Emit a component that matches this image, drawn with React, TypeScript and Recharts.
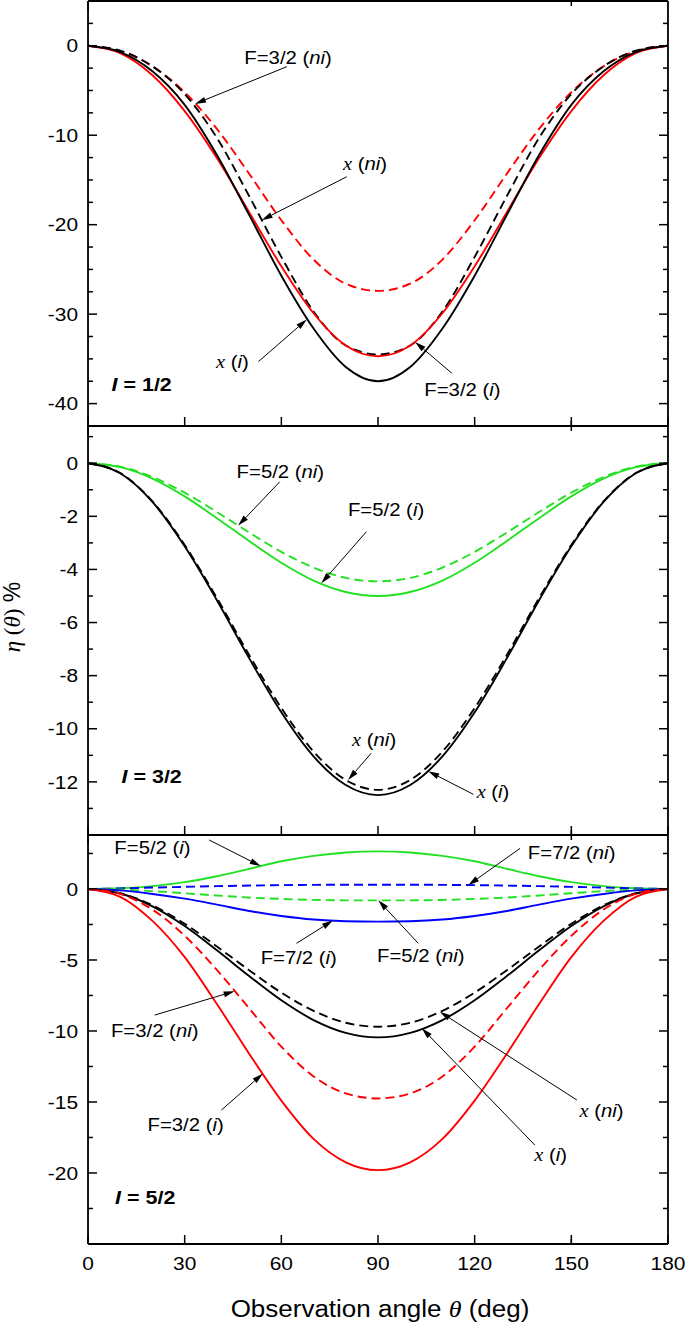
import React from 'react';
import { LineChart, Line, XAxis, YAxis, ReferenceLine, ReferenceDot } from 'recharts';

const SANS = '"Liberation Sans", Arial, sans-serif';
const SERIF = '"Liberation Serif", "Times New Roman", serif';
const W = 685;
const THIN = 0.01; // axes take no room, the margins place the plot

// observation angle (deg)
const angles = [0, 10, 20, 30, 40, 50, 60, 70, 80, 90, 100, 110, 120, 130, 140, 150, 160, 170, 180];
const majorX = [0, 30, 60, 90, 120, 150, 180];
const minorX = [15, 45, 75, 105, 135, 165];

// I = 1/2
const halfXI = [0, -0.7, -2.85, -6.6, -12.2, -18.9, -25.7, -31.6, -35.9, -37.5, -35.9, -31.6, -25.7, -18.9, -12.2, -6.6, -2.85, -0.7, 0];
const halfF32I = [0, -0.83, -3.3, -7.3, -12.55, -18.6, -24.65, -29.9, -33.5, -34.7, -33.5, -29.9, -24.65, -18.6, -12.55, -7.3, -3.3, -0.83, 0];
const halfXNI = [0, -0.55, -2.3, -5.4, -10.3, -16.8, -23.6, -29.7, -33.5, -34.5, -33.5, -29.7, -23.6, -16.8, -10.3, -5.4, -2.3, -0.55, 0];
const halfF32NI = [0, -0.6, -2.3, -5.2, -9.3, -14.3, -19.5, -23.9, -26.6, -27.4, -26.6, -23.9, -19.5, -14.3, -9.3, -5.2, -2.3, -0.6, 0];

// I = 3/2
const threeXI = [0, -0.38, -1.46, -3.13, -5.16, -7.34, -9.38, -11.04, -12.12, -12.5, -12.12, -11.04, -9.38, -7.34, -5.16, -3.13, -1.46, -0.38, 0];
const threeXNI = [0, -0.37, -1.44, -3.08, -5.08, -7.22, -9.22, -10.86, -11.93, -12.3, -11.93, -10.86, -9.22, -7.22, -5.08, -3.08, -1.44, -0.37, 0];
const threeF52I = [0, -0.15, -0.58, -1.25, -2.07, -2.93, -3.75, -4.42, -4.85, -5.0, -4.85, -4.42, -3.75, -2.93, -2.07, -1.25, -0.58, -0.15, 0];
const threeF52NI = [0, -0.13, -0.52, -1.11, -1.84, -2.61, -3.34, -3.93, -4.32, -4.45, -4.32, -3.93, -3.34, -2.61, -1.84, -1.11, -0.52, -0.13, 0];

// I = 5/2
const fiveF32I = [0, -0.55, -2.25, -4.8, -8.1, -11.6, -14.9, -17.6, -19.25, -19.8, -19.25, -17.6, -14.9, -11.6, -8.1, -4.8, -2.25, -0.55, 0];
const fiveF32NI = [0, -0.35, -1.45, -3.3, -5.7, -8.4, -11.1, -13.2, -14.4, -14.75, -14.4, -13.2, -11.1, -8.4, -5.7, -3.3, -1.45, -0.35, 0];
const fiveXI = [0, -0.32, -1.22, -2.61, -4.32, -6.13, -7.84, -9.23, -10.13, -10.45, -10.13, -9.23, -7.84, -6.13, -4.32, -2.61, -1.22, -0.32, 0];
const fiveXNI = [0, -0.3, -1.15, -2.45, -4.05, -5.72, -7.3, -8.58, -9.42, -9.7, -9.42, -8.58, -7.3, -5.72, -4.05, -2.45, -1.15, -0.3, 0];
const fiveF52I = [0, 0.05, 0.2, 0.48, 0.9, 1.42, 1.95, 2.33, 2.57, 2.65, 2.57, 2.33, 1.95, 1.42, 0.9, 0.48, 0.2, 0.05, 0];
const fiveF52NI = [0, -0.04, -0.15, -0.3, -0.46, -0.6, -0.7, -0.77, -0.8, -0.8, -0.8, -0.77, -0.7, -0.6, -0.46, -0.3, -0.15, -0.04, 0];
const fiveF72I = [0, -0.1, -0.35, -0.68, -1.1, -1.55, -1.9, -2.15, -2.27, -2.3, -2.27, -2.15, -1.9, -1.55, -1.1, -0.68, -0.35, -0.1, 0];
const fiveF72NI = [0, 0.04, 0.1, 0.15, 0.2, 0.24, 0.27, 0.29, 0.3, 0.3, 0.3, 0.29, 0.27, 0.24, 0.2, 0.15, 0.1, 0.04, 0];

const RED = '#ff0000';
const GREEN = '#22e022';
const BLUE = '#0000ff';
const BLACK = '#000000';

type Part = { t: string; it?: boolean; serif?: boolean; bold?: boolean };
type Pt = [number, number];
type Note = { text: Part[]; at: Pt; from: Pt; to: Pt };

const fLab = (f: string, kind: string): Part[] => [{ t: `F=${f} (` }, { t: kind, it: true }, { t: ')' }];
const xLab = (kind: string): Part[] => [{ t: 'x', serif: true, it: true }, { t: ' (' }, { t: kind, it: true }, { t: ')' }];
const iLab = (v: string): Part[] => [{ t: 'I', it: true, bold: true }, { t: ` = ${v}`, bold: true }];

const notesHalf: Note[] = [
  { text: fLab('3/2', 'ni'), at: [62.1, -1.3], from: [61.7, -2.34], to: [33.2, -6.5] },
  { text: xLab('ni'), at: [86.0, -13.2], from: [80.3, -14.64], to: [53.9, -19.5] },
  { text: xLab('i'), at: [44.8, -35.3], from: [52.9, -35.3], to: [67.9, -30.6] },
  { text: fLab('3/2', 'i'), at: [116.2, -38.4], from: [112.9, -36.6], to: [101.5, -33.1] },
];

const notesThree: Note[] = [
  { text: fLab('5/2', 'ni'), at: [59.7, -0.32], from: [59.5, -0.7], to: [46.6, -2.35] },
  { text: fLab('5/2', 'i'), at: [92.5, -1.76], from: [86.4, -2.58], to: [72.4, -4.52] },
  { text: xLab('ni'), at: [88.8, -10.42], from: [87.9, -10.92], to: [80.7, -11.93] },
  { text: xLab('i'), at: [125.7, -12.38], from: [119.6, -12.47], to: [105.6, -11.6] },
];

const notesFive: Note[] = [
  { text: fLab('5/2', 'i'), at: [20.0, 2.88], from: [37.6, 3.45], to: [53.6, 1.61] },
  { text: fLab('7/2', 'ni'), at: [150.1, 2.57], from: [134.1, 2.86], to: [118.0, 0.27] },
  { text: fLab('5/2', 'ni'), at: [103.3, -4.72], from: [102.5, -3.83], to: [90.1, -0.8] },
  { text: fLab('7/2', 'i'), at: [65.4, -4.86], from: [64.7, -3.83], to: [76.0, -2.22] },
  { text: fLab('3/2', 'ni'), at: [20.7, -10.0], from: [20.7, -8.88], to: [45.5, -7.2] },
  { text: fLab('3/2', 'i'), at: [30.3, -16.62], from: [41.4, -15.57], to: [54.3, -13.0] },
  { text: xLab('ni'), at: [159.4, -15.64], from: [151.7, -14.86], to: [109.2, -8.65] },
  { text: xLab('i'), at: [143.6, -18.74], from: [138.7, -18.04], to: [103.6, -9.8] },
];

const Parts = ({ parts }: { parts: Part[] }) => (
  <>
    {parts.map((p, i) => (
      <tspan
        key={i}
        fontStyle={p.it ? 'italic' : 'normal'}
        fontWeight={p.bold ? 'bold' : 'normal'}
        fontFamily={p.serif ? SERIF : SANS}
      >
        {p.t}
      </tspan>
    ))}
  </>
);

const Label = ({ cx, cy, parts, anchor = 'middle', size = 18 }: any) => (
  <g transform={`translate(${cx},${cy}) scale(1.13,1)`}>
    <text textAnchor={anchor} dy="0.35em" fontSize={size} fill="#000" style={{ whiteSpace: 'pre' }}>
      <Parts parts={parts} />
    </text>
  </g>
);

const Arrow = ({ x1, y1, x2, y2 }: any) => {
  const dx = x2 - x1;
  const dy = y2 - y1;
  const len = Math.hypot(dx, dy) || 1;
  const ux = dx / len;
  const uy = dy / len;
  const hl = 11;
  const hw = 3;
  const bx = x2 - ux * hl;
  const by = y2 - uy * hl;
  return (
    <g>
      <line x1={x1} y1={y1} x2={bx} y2={by} stroke="#000" strokeWidth={1} />
      <polygon points={`${x2},${y2} ${bx - uy * hw},${by + ux * hw} ${bx + uy * hw},${by - ux * hw}`} fill="#000" />
    </g>
  );
};

// inward tick marks (and labels) drawn from the axis position that recharts hands over
type Side = 'left' | 'right' | 'top' | 'bottom';
const makeTick = (side: Side, len: number, label = false) => (p: any) => {
  const { x, y } = p;
  const dir = { left: [1, 0], right: [-1, 0], top: [0, 1], bottom: [0, -1] }[side];
  return (
    <g>
      <line x1={x} y1={y} x2={x + dir[0] * len} y2={y + dir[1] * len} stroke="#000" strokeWidth={1.5} />
      {label && side === 'left' && (
        <g transform={`translate(${x - 10},${y}) scale(1.1,1)`}>
          <text textAnchor="end" dy="0.35em" fontSize={19} fontFamily={SANS} fill="#000">{p.payload.value}</text>
        </g>
      )}
      {label && side === 'bottom' && (
        <g transform={`translate(${x},${y + 13}) scale(1.1,1)`}>
          <text textAnchor="middle" dy="0.71em" fontSize={19} fontFamily={SANS} fill="#000">{p.payload.value}</text>
        </g>
      )}
    </g>
  );
};

type Series = { key: string; values: number[]; color: string; dashed?: boolean };

const frame = { stroke: '#000', strokeWidth: 1.8 };

function Panel({ top, height, margin, domain, majorY, minorY, series, notes, tag, showX }: {
  top: number; height: number; margin: any; domain: [number, number]; majorY: number[]; minorY: number[];
  series: Series[]; notes: Note[]; tag: { at: Pt; text: Part[] }; showX?: boolean;
}) {
  const rows = angles.map((a, i) => {
    const r: any = { angle: a };
    series.forEach((s) => { r[s.key] = s.values[i]; });
    return r;
  });
  const common = { type: 'number' as const, allowDataOverflow: true, interval: 0 as const, tickSize: 0, tickMargin: 0, tickLine: false };
  return (
    <div style={{ position: 'absolute', left: 0, top, width: W, height }}>
      <LineChart width={W} height={height} data={rows} margin={margin}>
        <XAxis xAxisId={0} dataKey="angle" domain={[0, 180]} ticks={majorX} {...common}
          tick={makeTick('bottom', 9, !!showX)} axisLine={frame} height={THIN} />
        <XAxis xAxisId="xm" domain={[0, 180]} ticks={minorX} {...common}
          tick={makeTick('bottom', 5)} axisLine={false} height={THIN} />
        <XAxis xAxisId="xt" orientation="top" domain={[0, 180]} ticks={majorX} {...common}
          tick={makeTick('top', 9)} axisLine={frame} height={THIN} />
        <XAxis xAxisId="xtm" orientation="top" domain={[0, 180]} ticks={minorX} {...common}
          tick={makeTick('top', 5)} axisLine={false} height={THIN} />
        <YAxis yAxisId={0} domain={domain} ticks={majorY} {...common}
          tick={makeTick('left', 9, true)} axisLine={frame} width={THIN} />
        <YAxis yAxisId="ym" domain={domain} ticks={minorY} {...common}
          tick={makeTick('left', 5)} axisLine={false} width={THIN} />
        <YAxis yAxisId="yr" orientation="right" domain={domain} ticks={majorY} {...common}
          tick={makeTick('right', 9)} axisLine={frame} width={THIN} />
        <YAxis yAxisId="yrm" orientation="right" domain={domain} ticks={minorY} {...common}
          tick={makeTick('right', 5)} axisLine={false} width={THIN} />
        {series.map((s) => (
          <Line
            key={s.key}
            dataKey={s.key}
            type="monotone"
            stroke={s.color}
            strokeWidth={1.9}
            strokeDasharray={s.dashed ? '9 5' : undefined}
            dot={false}
            activeDot={false}
            isAnimationActive={false}
          />
        ))}
        {notes.map((n, i) => (
          <ReferenceLine
            key={`a${i}`}
            segment={[{ x: n.from[0], y: n.from[1] }, { x: n.to[0], y: n.to[1] }]}
            shape={(p: any) => <Arrow {...p} />}
          />
        ))}
        {notes.map((n, i) => (
          <ReferenceDot
            key={`t${i}`}
            x={n.at[0]}
            y={n.at[1]}
            shape={(p: any) => <Label cx={p.cx} cy={p.cy} parts={n.text} />}
          />
        ))}
        <ReferenceDot
          x={tag.at[0]}
          y={tag.at[1]}
          shape={(p: any) => <Label cx={p.cx} cy={p.cy} parts={tag.text} anchor="start" size={19} />}
        />
      </LineChart>
    </div>
  );
}

export default function App() {
  return (
    <div style={{ position: 'absolute', left: 0, top: 0, width: W, height: 1327, background: '#fff' }}>
      <Panel
        top={0}
        height={440}
        margin={{ top: 1, right: 17, bottom: 14, left: 88 }}
        domain={[-42.5, 5]}
        majorY={[0, -10, -20, -30, -40]}
        minorY={[2.5, -2.5, -5, -7.5, -12.5, -15, -17.5, -22.5, -25, -27.5, -32.5, -35, -37.5]}
        series={[
          { key: 'f32ni', values: halfF32NI, color: RED, dashed: true },
          { key: 'xni', values: halfXNI, color: BLACK, dashed: true },
          { key: 'f32i', values: halfF32I, color: RED },
          { key: 'xi', values: halfXI, color: BLACK },
        ]}
        notes={notesHalf}
        tag={{ at: [7.3, -37.8], text: iLab('1/2') }}
      />
      <Panel
        top={420}
        height={425}
        margin={{ top: 6, right: 17, bottom: 10, left: 88 }}
        domain={[-14, 1.4]}
        majorY={[0, -2, -4, -6, -8, -10, -12]}
        minorY={[1, -1, -3, -5, -7, -9, -11, -13]}
        series={[
          { key: 'f52ni', values: threeF52NI, color: GREEN, dashed: true },
          { key: 'f52i', values: threeF52I, color: GREEN },
          { key: 'xni', values: threeXNI, color: BLACK, dashed: true },
          { key: 'xi', values: threeXI, color: BLACK },
        ]}
        notes={notesThree}
        tag={{ at: [10.4, -11.78], text: iLab('3/2') }}
      />
      <Panel
        top={829}
        height={498}
        margin={{ top: 6, right: 17, bottom: 83, left: 88 }}
        domain={[-25, 3.8]}
        majorY={[0, -5, -10, -15, -20]}
        minorY={[2.5, -2.5, -7.5, -12.5, -17.5, -22.5]}
        series={[
          { key: 'f52i', values: fiveF52I, color: GREEN },
          { key: 'f72ni', values: fiveF72NI, color: BLUE, dashed: true },
          { key: 'f52ni', values: fiveF52NI, color: GREEN, dashed: true },
          { key: 'f72i', values: fiveF72I, color: BLUE },
          { key: 'xni', values: fiveXNI, color: BLACK, dashed: true },
          { key: 'xi', values: fiveXI, color: BLACK },
          { key: 'f32ni', values: fiveF32NI, color: RED, dashed: true },
          { key: 'f32i', values: fiveF32I, color: RED },
        ]}
        notes={notesFive}
        tag={{ at: [8.4, -21.7], text: iLab('5/2') }}
        showX
      />
      <svg width={W} height={1327} style={{ position: 'absolute', left: 0, top: 0, pointerEvents: 'none' }}>
        <g transform="translate(380,1317) scale(1.13,1)">
          <text textAnchor="middle" fontSize={23} fontFamily={SANS} fill="#000" style={{ whiteSpace: 'pre' }}>
            <tspan>{'Observation angle '}</tspan>
            <tspan fontFamily={SERIF} fontStyle="italic">θ</tspan>
            <tspan>{' (deg)'}</tspan>
          </text>
        </g>
        <text transform="translate(20,617) rotate(-90)" textAnchor="middle" fontSize={23} fill="#000" style={{ whiteSpace: 'pre' }}>
          <tspan fontFamily={SERIF} fontStyle="italic">η</tspan>
          <tspan fontFamily={SERIF}>{' ('}</tspan>
          <tspan fontFamily={SERIF} fontStyle="italic">θ</tspan>
          <tspan fontFamily={SERIF}>{')'}</tspan>
          <tspan fontFamily={SANS}>{' %'}</tspan>
        </text>
      </svg>
    </div>
  );
}
